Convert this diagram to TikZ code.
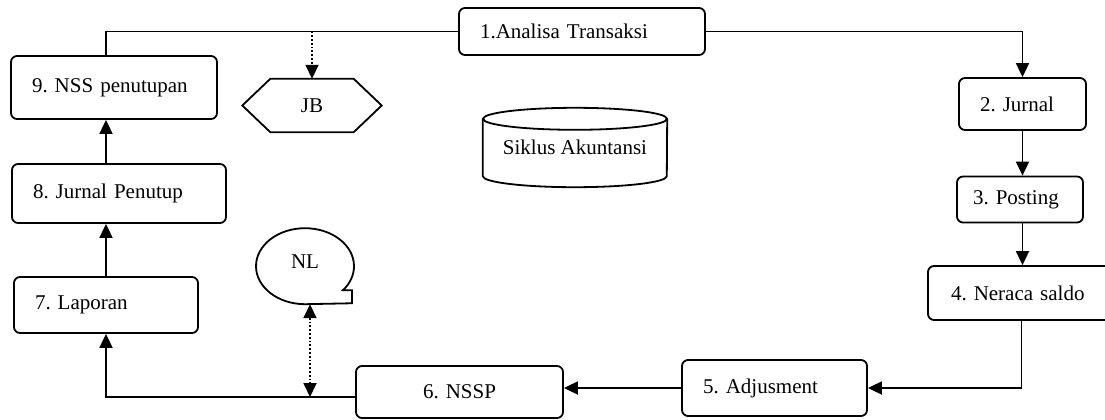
\documentclass[tikz,border=0pt]{standalone}
\usepackage{fontspec}
\setmainfont{Liberation Serif}
\frenchspacing
\usetikzlibrary{arrows.meta}
\tikzstyle{tahap} = [draw=black, line width=1.8pt, rounded corners=6pt, align=left, inner xsep=21pt, inner ysep=0pt, font=\fontsize{21}{25}\selectfont]
\tikzstyle{simbol} = [inner sep=0pt, font=\fontsize{21}{25}\selectfont]
\tikzstyle{garis} = [line width=1.8pt]
\tikzstyle{panah} = [line width=1.8pt, -{Triangle[length=14pt,width=13pt]}]
\tikzstyle{titik} = [line width=1.8pt, dotted, -{Triangle[length=14pt,width=13pt]}]
\begin{document}
\begin{tikzpicture}[x=1pt, y=-1pt]%
			\useasboundingbox (0,0) rectangle (1105,420);%
			% tahapan siklus
			\node [tahap, text width=204pt, minimum height=47pt] (n1) at (582,31.5) {1.Analisa Transaksi};%
			\node [tahap, text width=85pt, minimum height=52pt] (n2) at (1022.5,104) {2. Jurnal};%
			\node [tahap, inner xsep=16pt, text width=94pt, minimum height=46pt] (n3) at (1020,199.5) {3. Posting};%
			\node [tahap, inner xsep=23pt, text width=141pt, minimum height=54pt] (n4) at (1021.5,293) {4. Neraca saldo};%
			\node [tahap, text width=143pt, minimum height=56pt] (n5) at (774.5,388) {5. Adjusment};%
			\node [tahap, align=center, text width=165pt, minimum height=52pt] (n6) at (459.5,392) {6. NSSP};%
			\node [tahap, text width=142pt, minimum height=56pt] (n7) at (106,305) {7. Laporan};%
			\node [tahap, text width=172pt, minimum height=59pt] (n8) at (119,193.5) {8. Jurnal Penutup};%
			\node [tahap, text width=164pt, minimum height=63pt] (n9) at (114,87.5) {9. NSS penutupan};%
			% simbol
			\node [simbol, minimum width=139pt, minimum height=53pt] (jb) at (312,105.5) {JB};%
			\draw [garis] (jb.west) -- ([xshift=28pt]jb.north west) -- ([xshift=-28pt]jb.north east) -- (jb.east) -- ([xshift=-28pt]jb.south east) -- ([xshift=28pt]jb.south west) -- cycle;%
			\node [simbol, minimum width=184pt, minimum height=79pt] (siklus) at (575,147.5) {Siklus Akuntansi};%
			\draw [garis] ([yshift=-11pt]siklus.north) ellipse [x radius=92pt, y radius=11pt];%
			\draw [garis] ([yshift=-11pt]siklus.north west) -- ([yshift=11pt]siklus.south west) arc [start angle=180, end angle=360, x radius=92pt, y radius=11pt] -- ([yshift=-11pt]siklus.north east);%
			\node [simbol, minimum width=98pt, minimum height=76pt] (nl) at (305,266) {\raisebox{9pt}{NL}};%
			\draw [garis] (nl.south) arc [start angle=-90, end angle=-399.3, x radius=49pt, y radius=38pt] -- ++(9pt,0pt) -- ++(0pt,-13pt) -- cycle;%
			% alur
			\draw [panah] (n1.east) -| (n2.north);%
			\draw [panah] (n2.south) -- (n2.south |- n3.north);%
			\draw [panah] (n3.south -| n2.south) -- (n2.south |- n4.north);%
			\draw [panah] (n4.south) |- (n5.east);%
			\draw [panah] (n5.west) -- (n5.west -| n6.east);%
			\draw [panah] ([yshift=-5pt]n6.west) -| (n7.south);%
			\draw [panah] (n7.north) -- (n7.north |- n8.south);%
			\draw [panah] (n7.north |- n8.north) -- (n7.north |- n9.south);%
			\draw [garis] (n9.north -| n7.north) |- (n1.west);%
			\coordinate (cabang) at (310,397);%
			\draw [titik] (jb.north |- n1.west) -- (jb.north);%
			\draw [titik, {Triangle[length=14pt,width=13pt]}-{Triangle[length=14pt,width=13pt]}] (nl.south -| cabang) -- (cabang);%
		\end{tikzpicture}
\end{document}
